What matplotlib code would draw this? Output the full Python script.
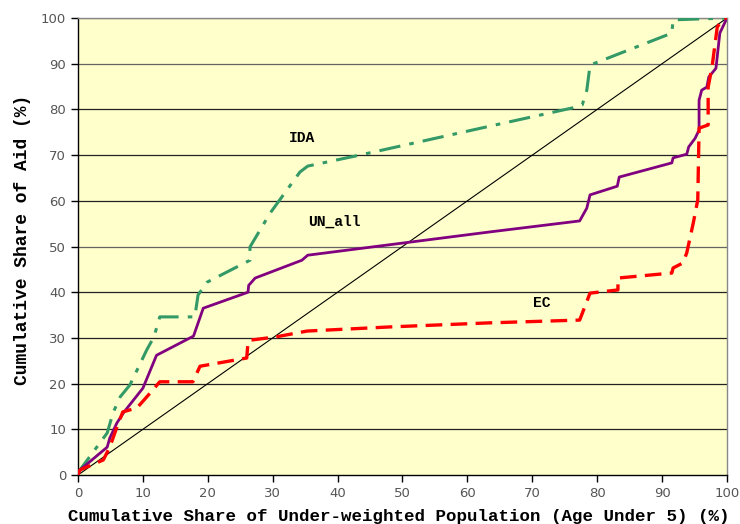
import matplotlib.pyplot as plt

# concentration curves
un_x = [0, 0.3, 4.5, 4.9, 6.0, 7.1, 10.0, 12.1, 17.8, 19.3, 26.2, 26.3, 27.3, 34.5, 35.4,
        63.5, 77.3, 78.4, 78.9, 83.1, 83.4, 91.5, 91.7, 93.8, 94.1, 95.1, 95.7, 95.7,
        96.1, 96.9, 97.2, 98.3, 98.9, 100]
un_y = [0.5, 1.1, 6.1, 8.1, 11.4, 13.8, 19.0, 26.2, 30.4, 36.5, 40.0, 41.5, 43.1, 47.0, 48.1,
        53.2, 55.6, 58.4, 61.3, 63.2, 65.2, 68.3, 69.4, 70.2, 71.8, 73.7, 75.5, 82.0,
        84.2, 84.9, 87.1, 89.0, 96.7, 100]

ida_x = [0, 0.3, 4.5, 5.4, 6.5, 8.0, 10.6, 11.7, 12.6, 18.0, 18.5, 19.9, 26.5, 26.5, 29.6,
         34.2, 35.4, 43.4, 64.3, 76.1, 77.7, 78.4, 78.9, 91.5, 91.7, 100]
ida_y = [0, 1.1, 9.2, 13.6, 17.1, 19.7, 27.4, 30.2, 34.6, 34.6, 39.4, 42.2, 47.0, 49.9, 57.3,
         66.3, 67.6, 70.0, 76.6, 80.3, 81.0, 84.2, 89.7, 96.7, 99.6, 100]

ec_x = [0, 0.3, 3.9, 4.9, 6.0, 6.9, 9.1, 10.6, 12.6, 17.7, 18.8, 26.0, 26.2, 26.5, 30.4,
        35.3, 48.0, 63.5, 77.3, 78.9, 83.2, 83.2, 91.5, 91.7, 93.2, 93.8, 94.8, 95.5,
        95.7, 97.1, 97.1, 97.7, 98.5, 99.4, 100]
ec_y = [0, 1.1, 3.3, 6.1, 10.5, 13.8, 14.7, 17.1, 20.4, 20.4, 23.8, 25.6, 29.1, 29.5, 30.2,
        31.5, 32.4, 33.3, 33.9, 39.8, 40.5, 43.1, 44.2, 45.3, 46.4, 48.6, 55.1, 60.2,
        75.9, 76.6, 84.9, 89.3, 98.0, 100, 100]

labels = [("IDA", 34.5, 73.7), ("UN_all", 39.5, 55.4), ("EC", 71.5, 37.6)]

fig = plt.figure(figsize=(7.4, 5.24), dpi=100)
ax = fig.add_axes([0.1054, 0.0935, 0.8770, 0.8721])
ax.set_facecolor("#FFFFCC")

for yv in range(10, 101, 10):
    gc = "#666666" if yv in (50, 90, 100) else "#222222"
    ax.axhline(yv, color=gc, lw=0.9, zorder=1)

ax.plot([0, 100], [0, 100], color="black", lw=0.8, zorder=2)
ax.plot(ida_x, ida_y, color="#339966", lw=2.2, dashes=[7, 3, 1.5, 3], zorder=3)
ax.plot(un_x, un_y, color="#800080", lw=2.0, zorder=4)
ax.plot(ec_x, ec_y, color="#FF0000", lw=2.4, dashes=[5, 2.5], zorder=5)

mono = "Liberation Mono"
for txt, lx, ly in labels:
    ax.text(lx, ly, txt, family=mono, weight="bold", fontsize=10.5,
            ha="center", va="center", zorder=6)

ax.set_xlim(0, 100)
ax.set_ylim(0, 100)
ax.set_xticks(range(0, 101, 10))
ax.set_yticks(range(0, 101, 10))
ax.tick_params(direction="out", length=5, width=1, colors="black",
               labelcolor="#555555", labelsize=9.5)
for s in ["left", "bottom"]:
    ax.spines[s].set_color("black")
    ax.spines[s].set_linewidth(1.0)
for s in ["top", "right"]:
    ax.spines[s].set_color("#888888")
    ax.spines[s].set_linewidth(1.0)

ax.set_xlabel("Cumulative Share of Under-weighted Population (Age Under 5) (%)",
              family=mono, weight="bold", fontsize=12.6)
ax.xaxis.set_label_coords(0.494, -0.075)
ax.set_ylabel("Cumulative Share of Aid (%)", family=mono, weight="bold",
              fontsize=13)
ax.yaxis.set_label_coords(-0.073, 0.514)

fig.savefig("out.png", dpi=100)
